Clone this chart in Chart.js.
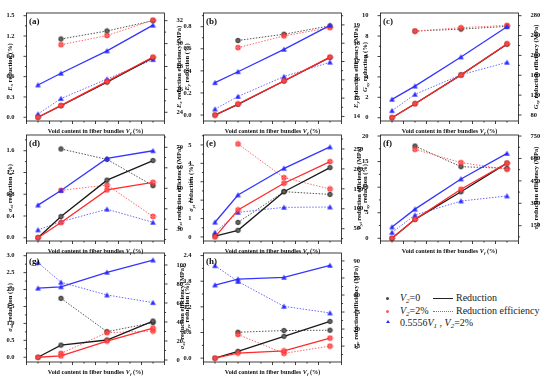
<!DOCTYPE html>
<html>
<head>
<meta charset="utf-8">
<script src="https://cdn.jsdelivr.net/npm/chart.js@4.4.0/dist/chart.umd.min.js"></script>
<style>
  body { margin: 0; background: #fff; }
  #wrap { position: relative; width: 550px; height: 381px; overflow: hidden; }
  #wrap canvas { position: absolute; }
  .lg { position: absolute; font-family: "Liberation Serif", serif; font-size: 10px; color: #222; white-space: nowrap; line-height: 12px; }
  .lg sub { font-size: 7px; vertical-align: -2px; font-style: italic; }
  .dot { position: absolute; width: 3px; height: 3px; border-radius: 50%; }
  .tri { position: absolute; width: 0; height: 0; border-left: 2px solid transparent; border-right: 2px solid transparent; border-bottom: 3.5px solid #2a2aff; }
  .ln { position: absolute; width: 20px; height: 0; }
</style>
</head>
<body>
<div id="wrap">
  <div class="dot" style="left:386px;top:296.5px;background:#444"></div>
  <div class="lg" style="left:400px;top:292px"><i>V</i><sub>2</sub>=0</div>
  <div class="ln" style="left:433px;top:298px;border-top:1.3px solid #222"></div>
  <div class="lg" style="left:456px;top:292px">Reduction</div>

  <div class="dot" style="left:386px;top:309.5px;background:#ff5a5a"></div>
  <div class="lg" style="left:400px;top:305px"><i>V</i><sub>2</sub>=2%</div>
  <div class="ln" style="left:433px;top:311px;border-top:1px dotted #777"></div>
  <div class="lg" style="left:456px;top:305px">Reduction efficiency</div>

  <div class="tri" style="left:385.5px;top:320px"></div>
  <div class="lg" style="left:400px;top:317px">0.5556<i>V</i><sub>1</sub> , <i>V</i><sub>2</sub>=2%</div>
</div>
<script>
// void content levels on the x axis
const vfLevels = [0, 1, 3, 5];

// (a) E_x
const exRedV0 = [0, 0.17, 0.52, 0.88];
const exRedV2 = [0, 0.175, 0.53, 0.89];
const exRedMix = [0.477, 0.65, 0.98, 1.36];
const exEffV0 = [null, 30.4, 31.1, 32.0];
const exEffV2 = [null, 29.9, 30.7, 32.05];
const exEffMix = [23.85, 25.2, 26.9, 28.6];

// (b) E_y
const eyRedV0 = [0, 0.097, 0.308, 0.522];
const eyRedV2 = [0, 0.1, 0.31, 0.525];
const eyRedMix = [0.293, 0.392, 0.595, 0.812];
const eyEffV0 = [null, 18.15, 18.49, 18.95];
const eyEffV2 = [null, 17.76, 18.4, 18.85];
const eyEffMix = [14.4, 15.09, 16.18, 16.96];

// (c) G_xy
const gxyRedV0 = [0, 1.37, 4.2, 7.2];
const gxyRedV2 = [0, 1.37, 4.18, 7.25];
const gxyRedMix = [1.8, 3.1, 5.95, 8.92];
const gxyEffV0 = [null, 249, 253, 258.5];
const gxyEffV2 = [null, 249, 255.8, 260.5];
const gxyEffMix = [88.7, 121.6, 161, 186];

// (d) sigma_xt
const sxtRedV0 = [0, 0.39, 1.06, 1.42];
const sxtRedV2 = [0, 0.28, 0.88, 1.02];
const sxtRedMix = [0.6, 0.87, 1.46, 1.6];
const sxtEffV0 = [null, 69.2, 64.1, 51.3];
const sxtEffV2 = [null, 49, 51.6, 36.3];
const sxtEffMix = [29.7, 33.7, 39.8, 33.4];

// (e) sigma_yt
const sytRedV0 = [0.05, 0.36, 2.46, 3.77];
const sytRedV2 = [0, 1.47, 2.92, 4.09];
const sytRedMix = [0.8, 2.28, 3.73, 4.89];
const sytEffV0 = [null, 65.9, 142.9, 136];
const sytEffV2 = [null, 262.5, 178, 149.6];
const sytEffMix = [40.8, 91, 103.6, 104.4];

// (f) tau_xy
const txyRedV0 = [0, 3.7, 9.1, 14.7];
const txyRedV2 = [0, 3.7, 9.6, 14.7];
const txyRedMix = [2.2, 5.7, 11.6, 16.6];
const txyEffV0 = [null, 683, 545, 534];
const txyEffV2 = [null, 661, 572, 527];
const txyEffMix = [105, 221, 315, 349];

// (g) sigma_xc
const sxcRedV0 = [0, 0.36, 0.51, 1.07];
const sxcRedV2 = [0, 0.04, 0.48, 0.86];
const sxcRedMix = [2.04, 2.08, 2.51, 2.87];
const sxcEffV0 = [null, 64.9, 29.8, 39.3];
const sxcEffV2 = [null, 7, 28.8, 30.5];
const sxcEffMix = [102.5, 81.8, 68.4, 60.4];

// (h) sigma_yc
const sycRedV0 = [0, 0.16, 0.51, 0.86];
const sycRedV2 = [0, 0.12, 0.17, 0.47];
const sycRedMix = [1.71, 1.85, 1.89, 2.17];
const sycEffV0 = [null, 27.2, 28.7, 29];
const sycEffV2 = [null, 25.2, 8.6, 15];
const sycEffMix = [85.8, 71.9, 50, 44.2];

const panels = [
  { tag: "(a)", sym: "E", sub: "x", col: 0, row: 0,
    left: { min: -0.055, max: 1.54, step: 0.3, dec: 1 }, right: { min: 23.24, max: 32.67, step: 2 },
    red: [exRedV0, exRedV2, exRedMix], eff: [exEffV0, exEffV2, exEffMix] },
  { tag: "(b)", sym: "E", sub: "y", col: 1, row: 0,
    left: { min: -0.054, max: 0.924, step: 0.2, dec: 1 }, right: { min: 13.75, max: 19.65, step: 1 },
    red: [eyRedV0, eyRedV2, eyRedMix], eff: [eyEffV0, eyEffV2, eyEffMix] },
  { tag: "(c)", sym: "G", sub: "xy", col: 2, row: 0,
    left: { min: -0.32, max: 10.26, step: 2, dec: 0 }, right: { min: 67.9, max: 285.4, step: 40 },
    red: [gxyRedV0, gxyRedV2, gxyRedMix], eff: [gxyEffV0, gxyEffV2, gxyEffMix] },
  { tag: "(d)", sym: "σ", sub: "xt", col: 0, row: 1,
    left: { min: -0.06, max: 1.89, step: 0.4, dec: 1 }, right: { min: 24.3, max: 76, step: 10 },
    red: [sxtRedV0, sxtRedV2, sxtRedMix], eff: [sxtEffV0, sxtEffV2, sxtEffMix] },
  { tag: "(e)", sym: "σ", sub: "yt", col: 1, row: 1,
    left: { min: -0.22, max: 5.54, step: 1, dec: 0 }, right: { min: 19.2, max: 285, step: 50 },
    red: [sytRedV0, sytRedV2, sytRedMix], eff: [sytEffV0, sytEffV2, sytEffMix] },
  { tag: "(f)", sym: "τ", sub: "xy", col: 2, row: 1,
    left: { min: -0.53, max: 20.2, step: 5, dec: 0 }, right: { min: 47.7, max: 757, step: 150 },
    red: [txyRedV0, txyRedV2, txyRedMix], eff: [txyEffV0, txyEffV2, txyEffMix] },
  { tag: "(g)", sym: "σ", sub: "xc", col: 0, row: 2,
    left: { min: -0.14, max: 3.08, step: 0.5, dec: 1 }, right: { min: -2.1, max: 112.6, step: 20 },
    red: [sxcRedV0, sxcRedV2, sxcRedMix], eff: [sxcEffV0, sxcEffV2, sxcEffMix] },
  { tag: "(h)", sym: "σ", sub: "yc", col: 1, row: 2,
    left: { min: -0.09, max: 2.46, step: 0.6, dec: 1 }, right: { min: 1, max: 97, step: 15 },
    red: [sycRedV0, sycRedV2, sycRedMix], eff: [sycEffV0, sycEffV2, sycEffMix] },
];

const rowTop = [13, 135, 253];
const rowBottom = [121, 241, 362];
const FAM = '"Liberation Serif", "Times New Roman", serif';
const TITLE_PX = 6.5;

// little marker images
function marker(kind) {
  const c = document.createElement("canvas");
  c.width = 7; c.height = 7;
  const g = c.getContext("2d");
  if (kind === "tri") {
    g.fillStyle = "#2a2aff";
    g.beginPath(); g.moveTo(3.5, 0.8); g.lineTo(6.3, 5.8); g.lineTo(0.7, 5.8); g.closePath(); g.fill();
  } else if (kind === "red") {
    g.fillStyle = "rgba(255,130,130,0.7)";
    g.strokeStyle = "#ff2020"; g.lineWidth = 0.9;
    g.beginPath(); g.arc(3.5, 3.5, 2.4, 0, Math.PI * 2); g.fill(); g.stroke();
    g.beginPath(); g.moveTo(2, 2); g.lineTo(5, 5); g.moveTo(5, 2); g.lineTo(2, 5); g.stroke();
  } else {
    g.fillStyle = "#666"; g.strokeStyle = "#111"; g.lineWidth = 0.8;
    g.beginPath(); g.arc(3.5, 3.5, 2.2, 0, Math.PI * 2); g.fill(); g.stroke();
  }
  return c;
}
const mkBlack = marker("black"), mkRed = marker("red"), mkBlue = marker("tri");

function pts(ys) {
  return vfLevels.map((x, i) => ({ x: x, y: ys[i] })).filter(p => p.y !== null);
}

function drawRich(ctx, segs, x, y, rotate, size) {
  const fontOf = st => st === "s" ? `italic bold ${size * 0.72}px ${FAM}`
    : st === "i" ? `italic bold ${size}px ${FAM}` : `bold ${size}px ${FAM}`;
  let total = 0;
  const widths = segs.map(([t, st]) => { ctx.font = fontOf(st); const w = ctx.measureText(t).width; total += w; return w; });
  ctx.save();
  ctx.translate(x, y);
  if (rotate) ctx.rotate(-Math.PI / 2);
  ctx.textBaseline = "middle"; ctx.textAlign = "left"; ctx.fillStyle = "#111";
  let cx = -total / 2;
  segs.forEach(([t, st], i) => {
    ctx.font = fontOf(st);
    ctx.fillText(t, cx, st === "s" ? size * 0.3 : 0);
    cx += widths[i];
  });
  ctx.restore();
}

function drawTicks(ctx, scale, side, a) {
  const vals = scale.ticks.map(t => t.value);
  if (vals.length < 2) return;
  const step = vals[1] - vals[0];
  const minors = vals.map(v => v - step / 2).concat([vals[vals.length - 1] + step / 2])
    .filter(v => v >= scale.min && v <= scale.max);
  const one = (v, len) => {
    const p = scale.getPixelForValue(v);
    ctx.beginPath();
    if (side === "x") { ctx.moveTo(p, a.bottom); ctx.lineTo(p, a.bottom + len); }
    else if (side === "left") { ctx.moveTo(a.left, p); ctx.lineTo(a.left - len, p); }
    else { ctx.moveTo(a.right, p); ctx.lineTo(a.right + len, p); }
    ctx.stroke();
  };
  vals.forEach(v => one(v, 3));
  minors.forEach(v => one(v, 1.6));
}

function maxLabelW(ctx, scale) {
  ctx.font = `bold 6.5px ${FAM}`;
  return Math.max(...scale.ticks.map(t => ctx.measureText(String(t.label)).width));
}

const framePlugin = {
  id: "frame",
  afterDraw(chart) {
    const { ctx, chartArea: a } = chart;
    const p = chart.options.plugins.frame;
    ctx.save();
    ctx.strokeStyle = "#111"; ctx.lineWidth = 0.8;
    ctx.strokeRect(a.left, a.top, a.right - a.left, a.bottom - a.top);
    drawTicks(ctx, chart.scales.x, "x", a);
    drawTicks(ctx, chart.scales.yL, "left", a);
    drawTicks(ctx, chart.scales.yR, "right", a);

    const midY = (a.top + a.bottom) / 2;
    const lw = maxLabelW(ctx, chart.scales.yL);
    const rw = maxLabelW(ctx, chart.scales.yR);
    drawRich(ctx, [[p.sym, "i"], [p.sub, "s"], [" reduction (%)", "n"]], a.left - 4 - lw - 4.5, midY, true, TITLE_PX);
    drawRich(ctx, [[p.sym, "i"], [p.sub, "s"], [" reduction efficiency (MPa)", "n"]], a.right + 4 + rw + 4, midY, true, TITLE_PX);
    drawRich(ctx, [["Void content in fiber bundles ", "n"], ["V", "i"], ["f", "s"], [" (%)", "n"]],
      (a.left + a.right) / 2, a.bottom + 10.5, false, 6.2);

    ctx.font = `bold 9px ${FAM}`;
    ctx.fillStyle = "#111"; ctx.textBaseline = "middle"; ctx.textAlign = "left";
    ctx.fillText(p.tag, a.left + 2.5, a.top + 8.5);
    ctx.restore();
  }
};

const wrap = document.getElementById("wrap");

panels.forEach(pn => {
  const canvasLeft = 177 * pn.col;
  const canvasTop = rowTop[pn.row] - 13;
  const width = pn.col === 2 ? 550 - canvasLeft : 190;
  const height = rowBottom[pn.row] - canvasTop + 14;
  const rightW = width - 26.5 - 138;

  const cv = document.createElement("canvas");
  cv.width = width; cv.height = height;
  cv.style.left = canvasLeft + "px"; cv.style.top = canvasTop + "px";
  cv.style.width = width + "px"; cv.style.height = height + "px";
  wrap.appendChild(cv);

  const solid = (ys, color, mk) => ({
    data: pts(ys), yAxisID: "yL", borderColor: color, borderWidth: 1.3,
    pointStyle: mk, pointRadius: 3, tension: 0
  });
  const dotted = (ys, color, mk) => ({
    data: pts(ys), yAxisID: "yR", borderColor: color, borderWidth: 1,
    borderDash: [1.5, 1.5], pointStyle: mk, pointRadius: 3, tension: 0
  });

  const tickFont = { family: FAM, size: 6.5, weight: "bold" };
  const yScale = (cfg, pos, dec, w) => ({
    type: "linear", position: pos, min: cfg.min, max: cfg.max,
    grid: { display: false }, border: { display: false },
    ticks: {
      stepSize: cfg.step, includeBounds: false, padding: 4, color: "#111", font: tickFont,
      callback: v => Number(v).toFixed(dec)
    },
    afterFit: s => { s.width = w; }
  });

  new Chart(cv, {
    type: "line",
    data: {
      datasets: [
        solid(pn.red[2], "#3535ff", mkBlue),
        solid(pn.red[1], "#ff2a2a", mkRed),
        solid(pn.red[0], "#1a1a1a", mkBlack),
        dotted(pn.eff[2], "#6a6aff", mkBlue),
        dotted(pn.eff[1], "#ff6a6a", mkRed),
        dotted(pn.eff[0], "#555555", mkBlack),
      ]
    },
    options: {
      responsive: false,
      animation: false,
      devicePixelRatio: 1,
      layout: { padding: { top: 13, left: 0, right: 0, bottom: 0 } },
      plugins: {
        legend: { display: false },
        tooltip: { enabled: false },
        frame: { sym: pn.sym, sub: pn.sub, tag: pn.tag }
      },
      scales: {
        x: {
          type: "linear", min: -0.5, max: 5.5,
          grid: { display: false }, border: { display: false },
          ticks: { stepSize: 1, includeBounds: false, padding: 4, maxRotation: 0, autoSkip: false,
            color: "#111", font: tickFont, callback: v => String(v) },
          afterFit: s => { s.height = 14; }
        },
        yL: yScale(pn.left, "left", pn.left.dec, 26.5),
        yR: yScale(pn.right, "right", 0, rightW)
      }
    },
    plugins: [framePlugin]
  });
});
</script>
</body>
</html>
